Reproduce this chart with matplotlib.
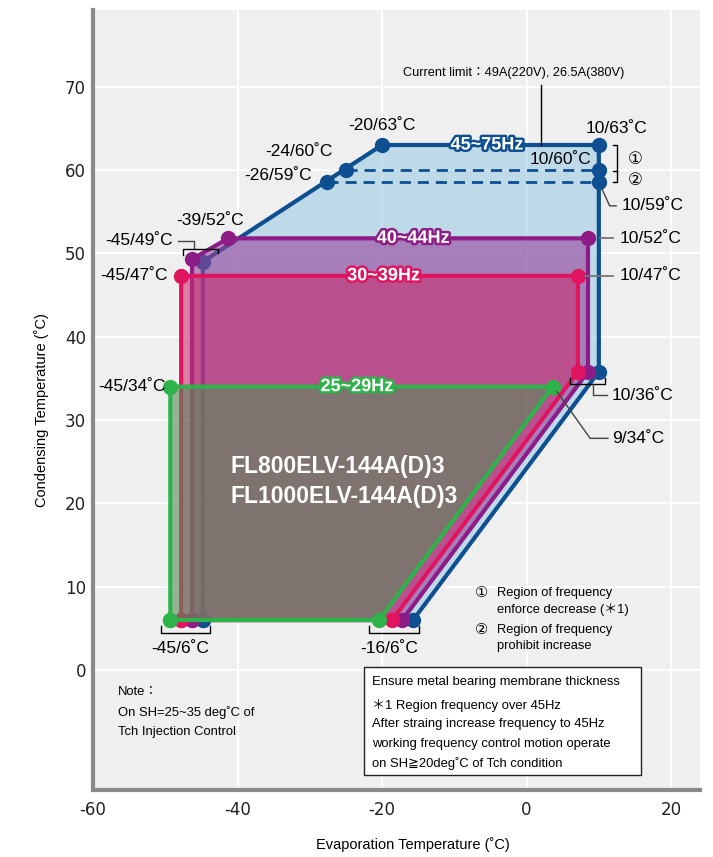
import matplotlib
matplotlib.use('Agg')
import matplotlib.pyplot as plt
import matplotlib.patheffects as pe

plt.rcParams['font.family'] = ['Liberation Sans', 'DejaVu Sans', 'Noto Sans CJK JP']
plt.rcParams['axes.unicode_minus'] = False

# operating envelopes (evaporation temp, condensing temp)
blue_x = [-44.8, -44.8, -20.0, 10.0, 10.0, -15.7]
blue_y = [6.0, 49.0, 63.0, 63.0, 35.8, 6.0]
purple_x = [-46.3, -46.3, -41.3, 8.5, 8.5, -17.2]
purple_y = [6.0, 49.3, 51.8, 51.8, 35.8, 6.0]
pink_x = [-47.8, -47.8, 7.1, 7.1, -18.6]
pink_y = [6.0, 47.3, 47.3, 35.8, 6.0]
green_x = [-49.3, -49.3, 3.6, -20.4]
green_y = [6.0, 34.0, 34.0, 6.0]

# frequency limit lines inside the 45~75Hz region
lim1_x = [-25.0, 10.0]
lim1_y = [60.0, 60.0]
lim2_x = [-27.6, 10.0]
lim2_y = [58.6, 58.6]

xticks = [-60, -40, -20, 0, 20]
yticks = [0, 10, 20, 30, 40, 50, 60, 70]

blue = '#0d4f91'
purple = '#8e1c87'
pink = '#e0145f'
green = '#2db34a'

fig = plt.figure(figsize=(7.13, 8.57), dpi=100)
ax = fig.add_axes([93/713, 67/857, 607/713, 780/857])
ax.set_facecolor('#efefef')
ax.set_xlim(-60, 24)
ax.set_ylim(-14.4, 79.2)
ax.set_xticks(xticks)
ax.set_yticks(yticks)
ax.grid(color='white', lw=1.3, zorder=0)
ax.set_axisbelow(True)
ax.tick_params(axis='x', length=0, labelsize=12, pad=8)
ax.tick_params(axis='y', length=0, labelsize=12, pad=5)
for lab in ax.get_xticklabels() + ax.get_yticklabels():
	lab.set_family('DejaVu Sans')
	lab.set_color('#222222')
for s in ['top', 'right']:
	ax.spines[s].set_visible(False)
for s in ['left', 'bottom']:
	ax.spines[s].set_color('#8a8a8a')
	ax.spines[s].set_linewidth(3)


def region(x, y, line_color, fill_color, alpha, z):
	ax.fill(x, y, color=fill_color, alpha=alpha, lw=0, zorder=z)
	ax.plot(x + [x[0]], y + [y[0]], '-o', color=line_color, lw=3, ms=10,
		solid_joinstyle='round', zorder=z + 1)


region(blue_x, blue_y, blue, '#8fc7e3', 0.5, 1)
ax.plot(lim1_x, lim1_y, '--o', color=blue, lw=2, ms=10, dashes=(4, 2.5), zorder=2)
ax.plot(lim2_x, lim2_y, '--o', color=blue, lw=2, ms=10, dashes=(4, 2.5), zorder=2)
region(purple_x, purple_y, purple, '#97439c', 0.6, 3)
region(pink_x, pink_y, pink, '#c83172', 0.6, 5)
region(green_x, green_y, green, '#578c5a', 0.6, 7)

# band labels
for tx, ty, txt, c in [(-5.5, 63.0, '45~75Hz', blue), (-15.7, 51.8, '40~44Hz', purple),
		(-19.8, 47.3, '30~39Hz', pink), (-23.5, 34.0, '25~29Hz', green)]:
	ax.text(tx, ty, txt, color='white', fontsize=13, fontweight='bold', ha='center',
		va='center', zorder=12, path_effects=[pe.withStroke(linewidth=3.5, foreground=c)])

ax.text(-41.0, 24.4, 'FL800ELV-144A(D)3', color='white', fontsize=16.5, fontweight='bold',
	va='center', zorder=12)
ax.text(-41.0, 20.8, 'FL1000ELV-144A(D)3', color='white', fontsize=16.5, fontweight='bold',
	va='center', zorder=12)

# point labels
fs = 12.5
ax.text(-20.0, 65.4, '-20/63˚C', fontsize=fs, ha='center', va='center', zorder=12)
ax.text(-26.8, 62.2, '-24/60˚C', fontsize=fs, ha='right', va='center', zorder=12)
ax.text(-29.7, 59.3, '-26/59˚C', fontsize=fs, ha='right', va='center', zorder=12)
ax.text(-43.8, 53.9, '-39/52˚C', fontsize=fs, ha='center', va='center', zorder=12)
ax.text(-48.9, 51.5, '-45/49˚C', fontsize=fs, ha='right', va='center', zorder=12)
ax.text(-49.6, 47.3, '-45/47˚C', fontsize=fs, ha='right', va='center', zorder=12)
ax.text(-50.0, 34.0, '-45/34˚C', fontsize=fs, ha='right', va='center', zorder=12)
ax.text(12.5, 65.0, '10/63˚C', fontsize=fs, ha='center', va='center', zorder=12)
ax.text(9.0, 61.3, '10/60˚C', fontsize=fs, ha='right', va='center', zorder=12)
ax.text(13.1, 55.7, '10/59˚C', fontsize=fs, ha='left', va='center', zorder=12)
ax.text(12.9, 51.8, '10/52˚C', fontsize=fs, ha='left', va='center', zorder=12)
ax.text(12.9, 47.3, '10/47˚C', fontsize=fs, ha='left', va='center', zorder=12)
ax.text(11.8, 33.0, '10/36˚C', fontsize=fs, ha='left', va='center', zorder=12)
ax.text(11.8, 27.8, '9/34˚C', fontsize=fs, ha='left', va='center', zorder=12)
ax.text(-47.9, 2.6, '-45/6˚C', fontsize=fs, ha='center', va='center', zorder=12)
ax.text(-19.0, 2.6, '-16/6˚C', fontsize=fs, ha='center', va='center', zorder=12)

# leaders and brackets
lk = dict(color='#444444', lw=1, zorder=11)
ax.plot([-48.2, -46.0, -46.0], [51.5, 51.5, 50.6], **lk)
ax.plot([-47.6, -47.6, -42.7, -42.7], [49.8, 50.5, 50.5, 50.0], color='black', lw=1, zorder=11)
ax.plot([10.4, 11.5, 12.4], [57.8, 55.7, 55.7], **lk)
ax.plot([10.2, 12.0], [51.8, 51.8], color='#777777', lw=1.3, zorder=11)
ax.plot([8.1, 12.0], [47.3, 47.3], color='#777777', lw=1.3, zorder=11)
ax.plot([6.0, 6.0, 10.8, 10.8], [35.0, 34.3, 34.3, 35.0], color='black', lw=1, zorder=11)
ax.plot([9.2, 9.2, 11.1], [34.3, 33.0, 33.0], **lk)
ax.plot([4.2, 8.8, 11.25], [33.4, 27.8, 27.8], **lk)
ax.plot([-50.6, -50.6, -43.8, -43.8], [5.3, 4.4, 4.4, 5.3], color='black', lw=1, zorder=11)
ax.plot([-21.8, -21.8, -14.9, -14.9], [5.3, 4.4, 4.4, 5.3], color='black', lw=1, zorder=11)
ax.plot([2.0, 2.0], [70.2, 63.0], color='black', lw=1, zorder=11)
ax.plot([11.95, 12.5, 12.5, 11.95], [63.0, 63.0, 58.6, 58.6], color='black', lw=1, zorder=11)
ax.plot([11.95, 12.5], [59.9, 59.9], color='black', lw=1, zorder=11)
ax.text(15.0, 61.3, '①', fontsize=12, ha='center', va='center', zorder=12)
ax.text(15.0, 58.8, '②', fontsize=12, ha='center', va='center', zorder=12)

ax.text(-17.1, 71.6, 'Current limit：49A(220V), 26.5A(380V)', fontsize=9.2, va='center', zorder=12)

# region notes
ax.text(-7.1, 9.2, '①', fontsize=10.5, ha='left', va='center', zorder=12)
ax.text(-4.1, 9.2, 'Region of frequency', fontsize=9.3, va='center', zorder=12)
ax.text(-4.1, 7.3, 'enforce decrease (＊1)', fontsize=9.3, va='center', zorder=12)
ax.text(-7.1, 4.8, '②', fontsize=10.5, ha='left', va='center', zorder=12)
ax.text(-4.1, 4.8, 'Region of frequency', fontsize=9.3, va='center', zorder=12)
ax.text(-4.1, 2.9, 'prohibit increase', fontsize=9.3, va='center', zorder=12)

ax.text(-56.5, -2.6, 'Note：', fontsize=9.4, va='center', zorder=12)
ax.text(-56.5, -5.1, 'On SH=25~35 deg˚C of', fontsize=9.4, va='center', zorder=12)
ax.text(-56.5, -7.5, 'Tch Injection Control', fontsize=9.4, va='center', zorder=12)

ax.add_patch(plt.Rectangle((-22.5, -12.6), 38.4, 12.96, facecolor='white',
	edgecolor='#222222', lw=1, zorder=11))
box_lines = ['Ensure metal bearing membrane thickness', '＊1 Region frequency over 45Hz',
	'After straing increase frequency to 45Hz', 'working frequency control motion operate',
	'on SH≧20deg˚C of Tch condition']
for ln, yy in zip(box_lines, [-1.45, -4.2, -6.5, -8.9, -11.2]):
	ax.text(-21.4, yy, ln, fontsize=9.4, va='center', zorder=12)

fig.text(413/713, 1 - 845/857, 'Evaporation Temperature (˚C)', fontsize=10.5, ha='center', va='center')
fig.text(42/713, 1 - 410/857, 'Condensing Temperature (˚C)', fontsize=10.5, ha='center',
	va='center', rotation=90)

plt.savefig('out.png', dpi=100)
